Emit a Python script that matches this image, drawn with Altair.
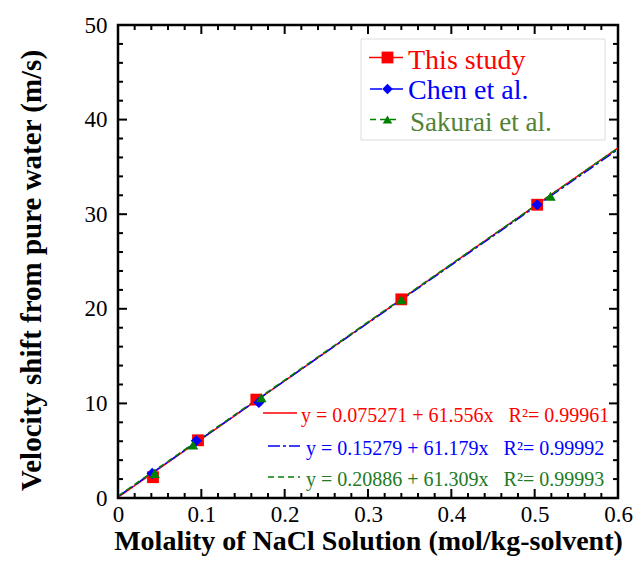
import altair as alt
import pandas as pd

# ---------------- data ----------------
series = ["This study", "Chen et al.", "Sakurai et al."]
colors = ["#FF0000", "#0000FF", "#008000"]
text_colors = ["#FF0000", "#0000FF", "#548235"]
eq_colors = ["#FF0000", "#0000FF", "#237A23"]
shapes = ["square", "diamond", "triangle-up"]
dashes = [[1, 0], [12, 3, 3, 3], [6, 4]]

this_x = [0.042, 0.096, 0.166, 0.340, 0.503]
this_y = [2.2, 6.1, 10.4, 21.0, 31.0]
chen_x = [0.041, 0.094, 0.169, 0.503]
chen_y = [2.6, 6.05, 10.1, 31.0]
sak_x = [0.044, 0.090, 0.172, 0.340, 0.519]
sak_y = [2.6, 5.6, 10.6, 20.95, 31.9]

intercepts = [0.075271, 0.15279, 0.20886]
slopes = [61.556, 61.179, 61.309]
r2_values = ["0.99961", "0.99992", "0.99993"]
fit_range = [0.0, 0.6]

x_major = [0, 0.1, 0.2, 0.3, 0.4, 0.5, 0.6]
x_minor = [0.02, 0.04, 0.06, 0.08, 0.12, 0.14, 0.16, 0.18, 0.22, 0.24, 0.26, 0.28,
           0.32, 0.34, 0.36, 0.38, 0.42, 0.44, 0.46, 0.48, 0.52, 0.54, 0.56, 0.58]
y_major = [0, 10, 20, 30, 40, 50]
y_minor = [2, 4, 6, 8, 12, 14, 16, 18, 22, 24, 26, 28, 32, 34, 36, 38, 42, 44, 46, 48]

# ---------------- tables ----------------
pts = pd.concat([
    pd.DataFrame({"series": series[0], "x": this_x, "y": this_y}),
    pd.DataFrame({"series": series[1], "x": chen_x, "y": chen_y}),
    pd.DataFrame({"series": series[2], "x": sak_x, "y": sak_y}),
], ignore_index=True)

fit_rows = []
for s, a, b in zip(series, intercepts, slopes):
    for xv in fit_range:
        fit_rows.append({"series": s, "x": xv, "y": a + b * xv})
fits = pd.DataFrame(fit_rows)

W, H = 500, 473
SERIF = "Liberation Serif"

xscale = alt.Scale(domain=[0, 0.6], nice=False, zero=False)
yscale = alt.Scale(domain=[0, 50], nice=False, zero=False)
color_scale = alt.Scale(domain=series, range=colors)
shape_scale = alt.Scale(domain=series, range=shapes)
dash_scale = alt.Scale(domain=series, range=dashes)

x_axis = alt.Axis(values=x_major, format="~g", ticks=False, domain=False, grid=False,
                  labelFont=SERIF, labelFontSize=23, labelColor="black", labelPadding=5,
                  labelFlush=False, labelOverlap=False,
                  title="Molality of NaCl Solution (mol/kg-solvent)",
                  titleFont=SERIF, titleFontSize=28, titleFontWeight="bold",
                  titleColor="black", titlePadding=1)
y_axis = alt.Axis(values=y_major, format="~g", ticks=False, domain=False, grid=False,
                  labelFont=SERIF, labelFontSize=23, labelColor="black", labelPadding=11,
                  labelOverlap=False,
                  title="Velocity shift from pure water (m/s)",
                  titleFont=SERIF, titleFontSize=29, titleFontWeight="bold",
                  titleColor="black", titlePadding=38, titleY=245)

lines = alt.Chart(fits).mark_line(strokeWidth=1.5).encode(
    x=alt.X("x:Q", scale=xscale, axis=x_axis),
    y=alt.Y("y:Q", scale=yscale, axis=y_axis),
    color=alt.Color("series:N", scale=color_scale, legend=None),
    strokeDash=alt.StrokeDash("series:N", scale=dash_scale, legend=None),
    detail="series:N",
)

sizes = alt.Scale(domain=series, range=[140, 110, 90])
points = alt.Chart(pts).mark_point(filled=True, opacity=1).encode(
    x=alt.X("x:Q", scale=xscale),
    y=alt.Y("y:Q", scale=yscale),
    color=alt.Color("series:N", scale=color_scale, legend=None),
    shape=alt.Shape("series:N", scale=shape_scale, legend=None),
    size=alt.Size("series:N", scale=sizes, legend=None),
    order=alt.Order("order:Q"),
).transform_calculate(
    order="indexof(['This study','Chen et al.','Sakurai et al.'], datum.series)"
)


def ticks(values, orient, length):
    d = pd.DataFrame({"x": values, "y": values})
    base = alt.Chart(d).mark_rule(color="black", strokeWidth=2)
    if orient == "bottom":
        return base.encode(x=alt.X("x:Q", scale=xscale), y=alt.value(H), y2=alt.value(H - length))
    if orient == "top":
        return base.encode(x=alt.X("x:Q", scale=xscale), y=alt.value(0), y2=alt.value(length))
    if orient == "left":
        return base.encode(y=alt.Y("y:Q", scale=yscale), x=alt.value(0), x2=alt.value(length))
    return base.encode(y=alt.Y("y:Q", scale=yscale), x=alt.value(W), x2=alt.value(W - length))


tick_layers = []
for o in ["bottom", "top"]:
    tick_layers.append(ticks(x_major, o, 9))
    tick_layers.append(ticks(x_minor, o, 5))
for o in ["left", "right"]:
    tick_layers.append(ticks(y_major, o, 9))
    tick_layers.append(ticks(y_minor, o, 5))

one = alt.Data(values=[{}])

# legend box
legend_box = alt.Chart(one).mark_rect(fill="white", stroke="#dcdcdc", strokeWidth=1).encode(
    x=alt.value(243), x2=alt.value(487), y=alt.value(14), y2=alt.value(115)
)

legend_layers = [legend_box]
leg_rows = [(32.5, 36), (64, 66), (94.5, 98)]
leg_rule = [(251, 285), (252, 285), (252, 278)]
leg_text_x = [290, 290, 292]
leg_font = [28, 28, 27]
for i, s in enumerate(series):
    ly, ty = leg_rows[i]
    legend_layers.append(alt.Chart(one).mark_rule(
        color=colors[i], strokeWidth=1.5, strokeDash=dashes[i]).encode(
        x=alt.value(leg_rule[i][0]), x2=alt.value(leg_rule[i][1]), y=alt.value(ly)))
    legend_layers.append(alt.Chart(one).mark_point(
        shape=shapes[i], filled=True, opacity=1, color=colors[i],
        size=[140, 110, 90][i]).encode(x=alt.value(269.5), y=alt.value(ly)))
    legend_layers.append(alt.Chart(one).mark_text(
        align="left", baseline="middle", font=SERIF, fontSize=leg_font[i],
        color=text_colors[i], text=s).encode(x=alt.value(leg_text_x[i]), y=alt.value(ty)))

# fit equations
eq_layers = []
eq_rule_y = [388, 421, 452]
eq_rule_x = [(145, 179), (150, 182), (150, 182)]
eq_text_x = [183, 188, 188]
eq_text_y = [390.5, 424, 455]
for i in range(3):
    eq_layers.append(alt.Chart(one).mark_rule(
        color=colors[i], strokeWidth=1.3, strokeDash=dashes[i]).encode(
        x=alt.value(eq_rule_x[i][0]), x2=alt.value(eq_rule_x[i][1]), y=alt.value(eq_rule_y[i])))
    txt = (f"y = {intercepts[i]} + {slopes[i]}x\u00a0\u00a0\u00a0R\u00b2= {r2_values[i]}")
    eq_layers.append(alt.Chart(one).mark_text(
        align="left", baseline="middle", font=SERIF, fontSize=20,
        color=eq_colors[i], text=txt).encode(x=alt.value(eq_text_x[i]), y=alt.value(eq_text_y[i])))

chart = alt.layer(
    lines, points, *tick_layers, *legend_layers, *eq_layers
).properties(
    width=W, height=H,
    autosize=alt.AutoSizeParams(type="none"),
    padding={"left": 110, "top": 17, "right": 15, "bottom": 59},
    background="white",
).configure_view(
    stroke="black", strokeWidth=2.5
)

chart.save("out.html", embed_options={"renderer": "svg", "actions": False})
